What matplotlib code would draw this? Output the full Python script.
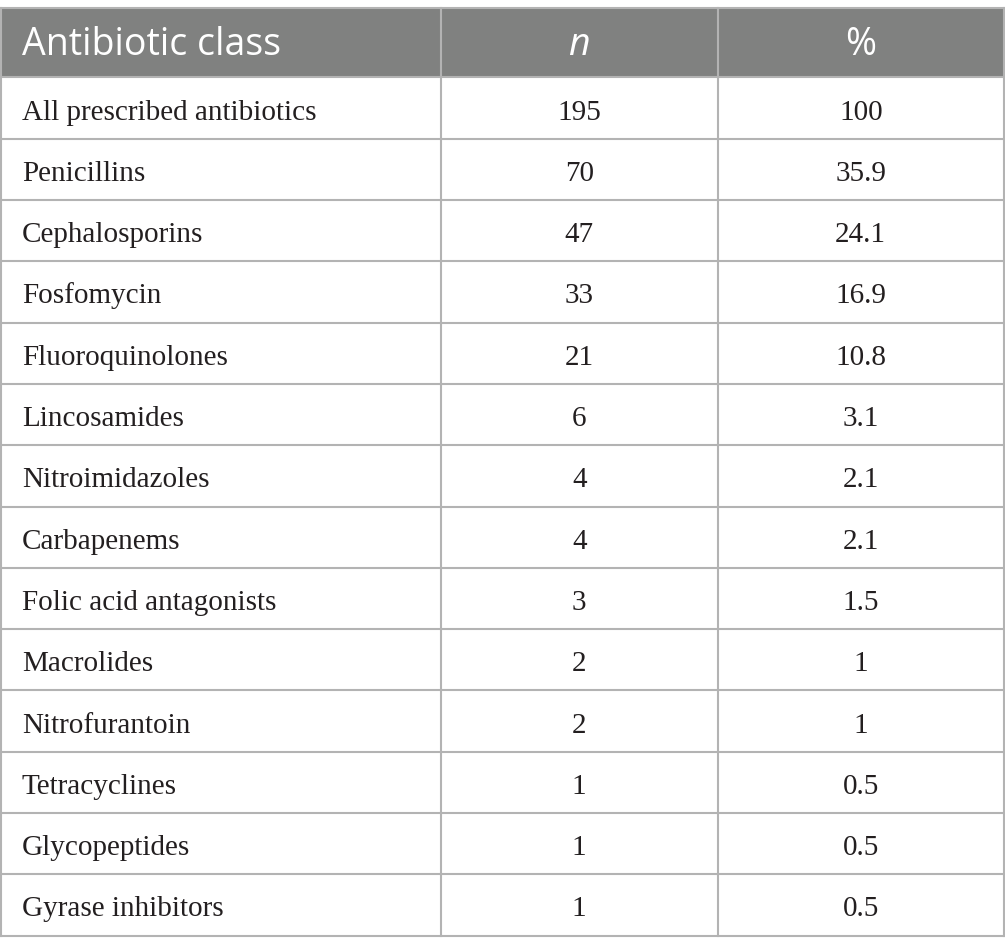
import matplotlib.pyplot as plt
from matplotlib.patches import Rectangle

# === Données du tableau ===
classes = ["All prescribed antibiotics", "Penicillins", "Cephalosporins", "Fosfomycin",
           "Fluoroquinolones", "Lincosamides", "Nitroimidazoles", "Carbapenems",
           "Folic acid antagonists", "Macrolides", "Nitrofurantoin", "Tetracyclines",
           "Glycopeptides", "Gyrase inhibitors"]
n_values = [195, 70, 47, 33, 21, 6, 4, 4, 3, 2, 2, 1, 1, 1]
pct_values = ["100", "35.9", "24.1", "16.9", "10.8", "3.1", "2.1", "2.1", "1.5", "1", "1",
              "0.5", "0.5", "0.5"]
headers = ["Antibiotic class", "n", "%"]

# === Géométrie (pixels) ===
W, H = 1005, 952
col_x = [1, 440.5, 718, 1003.5]
top = 8
header_bottom = 77.4
row_h = 61.3
bottom = header_bottom + row_h * len(classes)

grey_head = "#808180"
line_col = "#b3b3b3"
txt_col = "#231f20"

fig = plt.figure(figsize=(W / 100, H / 100), dpi=100)
ax = fig.add_axes([0, 0, 1, 1])
ax.set_xlim(0, W)
ax.set_ylim(H, 0)
ax.axis("off")

# En-tête
ax.add_patch(Rectangle((col_x[0], top), col_x[-1] - col_x[0], header_bottom - top,
                       facecolor=grey_head, edgecolor="none"))
yh = 55
ax.text(22, yh, headers[0], ha="left", va="baseline", color="white",
        fontsize=27, family="Open Sans")
ax.text((col_x[1] + col_x[2]) / 2, yh, headers[1], ha="center", va="baseline",
        color="white", fontsize=27, family="Open Sans", style="italic")
ax.text((col_x[2] + col_x[3]) / 2, yh, headers[2], ha="center", va="baseline",
        color="white", fontsize=27, family="Open Sans")

# Lignes du tableau
for i, (c, n, p) in enumerate(zip(classes, n_values, pct_values)):
    yb = header_bottom + row_h * (i + 0.5) + 11.5
    ax.text(22, yb, c, ha="left", va="baseline", color=txt_col,
            fontsize=21, family="Liberation Serif")
    ax.text((col_x[1] + col_x[2]) / 2, yb, str(n), ha="center", va="baseline",
            color=txt_col, fontsize=21, family="Liberation Serif")
    ax.text((col_x[2] + col_x[3]) / 2, yb, p, ha="center", va="baseline",
            color=txt_col, fontsize=21, family="Liberation Serif")

# Bordures
for i in range(len(classes) + 1):
    y = header_bottom + row_h * i
    ax.plot([col_x[0], col_x[-1]], [y, y], color=line_col, lw=1.5)
ax.plot([col_x[0], col_x[-1]], [top, top], color=line_col, lw=1.5)
for x in col_x:
    ax.plot([x, x], [top, bottom], color=line_col, lw=1.5)

fig.savefig("out.png", dpi=100)
